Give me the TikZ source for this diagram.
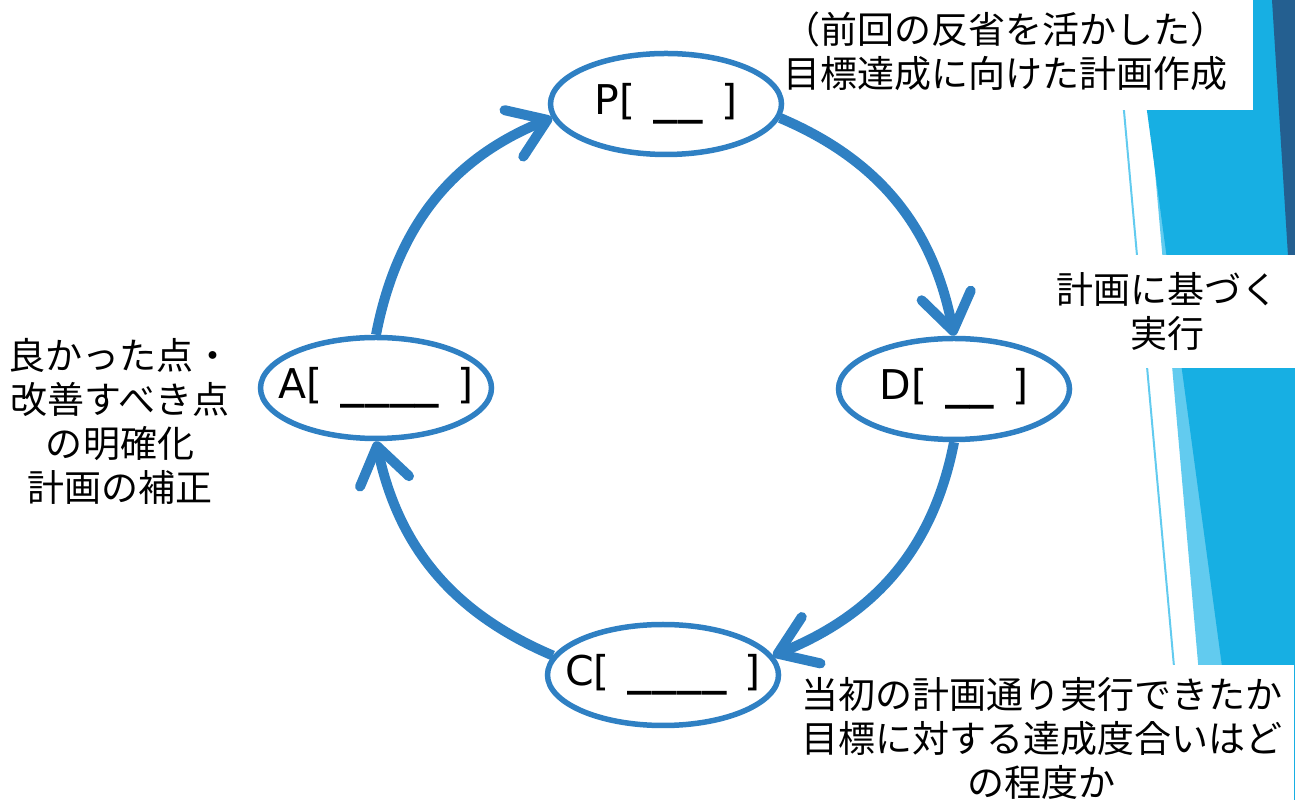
\documentclass[tikz,border=0pt]{standalone}
\usepackage{fontspec}
\setmainfont{Noto Sans CJK JP}
\newfontfamily\lat{DejaVu Sans}
\newfontfamily\latmono{DejaVu Sans Mono Bold}
\usetikzlibrary{shapes.geometric,arrows.meta}
\definecolor{cyc}{HTML}{2F80C3}
\definecolor{facetmain}{HTML}{17AFE3}
\definecolor{facetlight}{HTML}{62CBEF}
\definecolor{facetdark}{HTML}{245F90}
\newcommand{\phasetext}[2]{\makebox[0pt][c]{#1[\hspace{18pt}{\latmono#2}\hspace{18pt}]}}
\begin{document}
\begin{tikzpicture}[x=1pt,y=1pt,
  phase/.style={ellipse, draw=cyc, line width=5.5pt, minimum width=231pt, minimum height=101pt, inner sep=0pt, font=\lat\fontsize{41}{44}\selectfont},
  cycarrow/.style={draw=cyc, line width=10pt, -{Straight Barb[length=36pt,width=50pt,round]}},
  note/.style={font=\fontsize{37}{44}\selectfont, align=center, inner sep=0pt},
  notebox/.style={note, fill=white}
]
\useasboundingbox (0,0) rectangle (1295,800);
% right-hand decoration
\fill[facetlight] (1140,800) -- (1295,800) -- (1295,0) -- (1210,0) -- cycle;
\fill[facetmain] (1132,800) -- (1295,800) -- (1295,0) -- (1240,0) -- cycle;
\fill[facetdark] (1272,800) -- (1295,800) -- (1295,432) -- cycle;
\draw[facetlight, line width=2pt] (1114,800) -- (1186,0);
% text boxes
\node[notebox, minimum width=495pt, minimum height=117pt] (planNote) at (1005.5,748.5) {（前回の反省を活かした）\\目標達成に向けた計画作成};
\node[notebox, minimum width=255pt, minimum height=113pt] (doNote) at (1167.5,488.5) {計画に基づく\\実行};
\node[notebox, minimum width=505pt, minimum height=146pt] (checkNote) at (1041.5,62) {当初の計画通り実行できたか\\目標に対する達成度合いはど\\の程度か};
\node[note] (actNote) at (120,379) {良かった点・\\改善すべき点\\の明確化\\計画の補正};
% phases
\node[phase] (P) at (666,696) {\phasetext{P}{\_\_}};
\node[phase] (D) at (954,411) {\phasetext{D}{\_\_}};
\node[phase] (C) at (663,125) {\phasetext{C}{\_\_\_\_}};
\node[phase] (A) at (376,412) {\phasetext{A}{\_\_\_\_}};
% cycle arrows
\draw[cycarrow] (A.north) to[out=79,in=202] (P.187);
\draw[cycarrow] (P.353) to[out=-23,in=101] (D.north);
\draw[cycarrow] (D.south) to[out=-101,in=22] (C.10);
\draw[cycarrow] (C.170) to[out=157,in=-78] (A.south);
\end{tikzpicture}
\end{document}
